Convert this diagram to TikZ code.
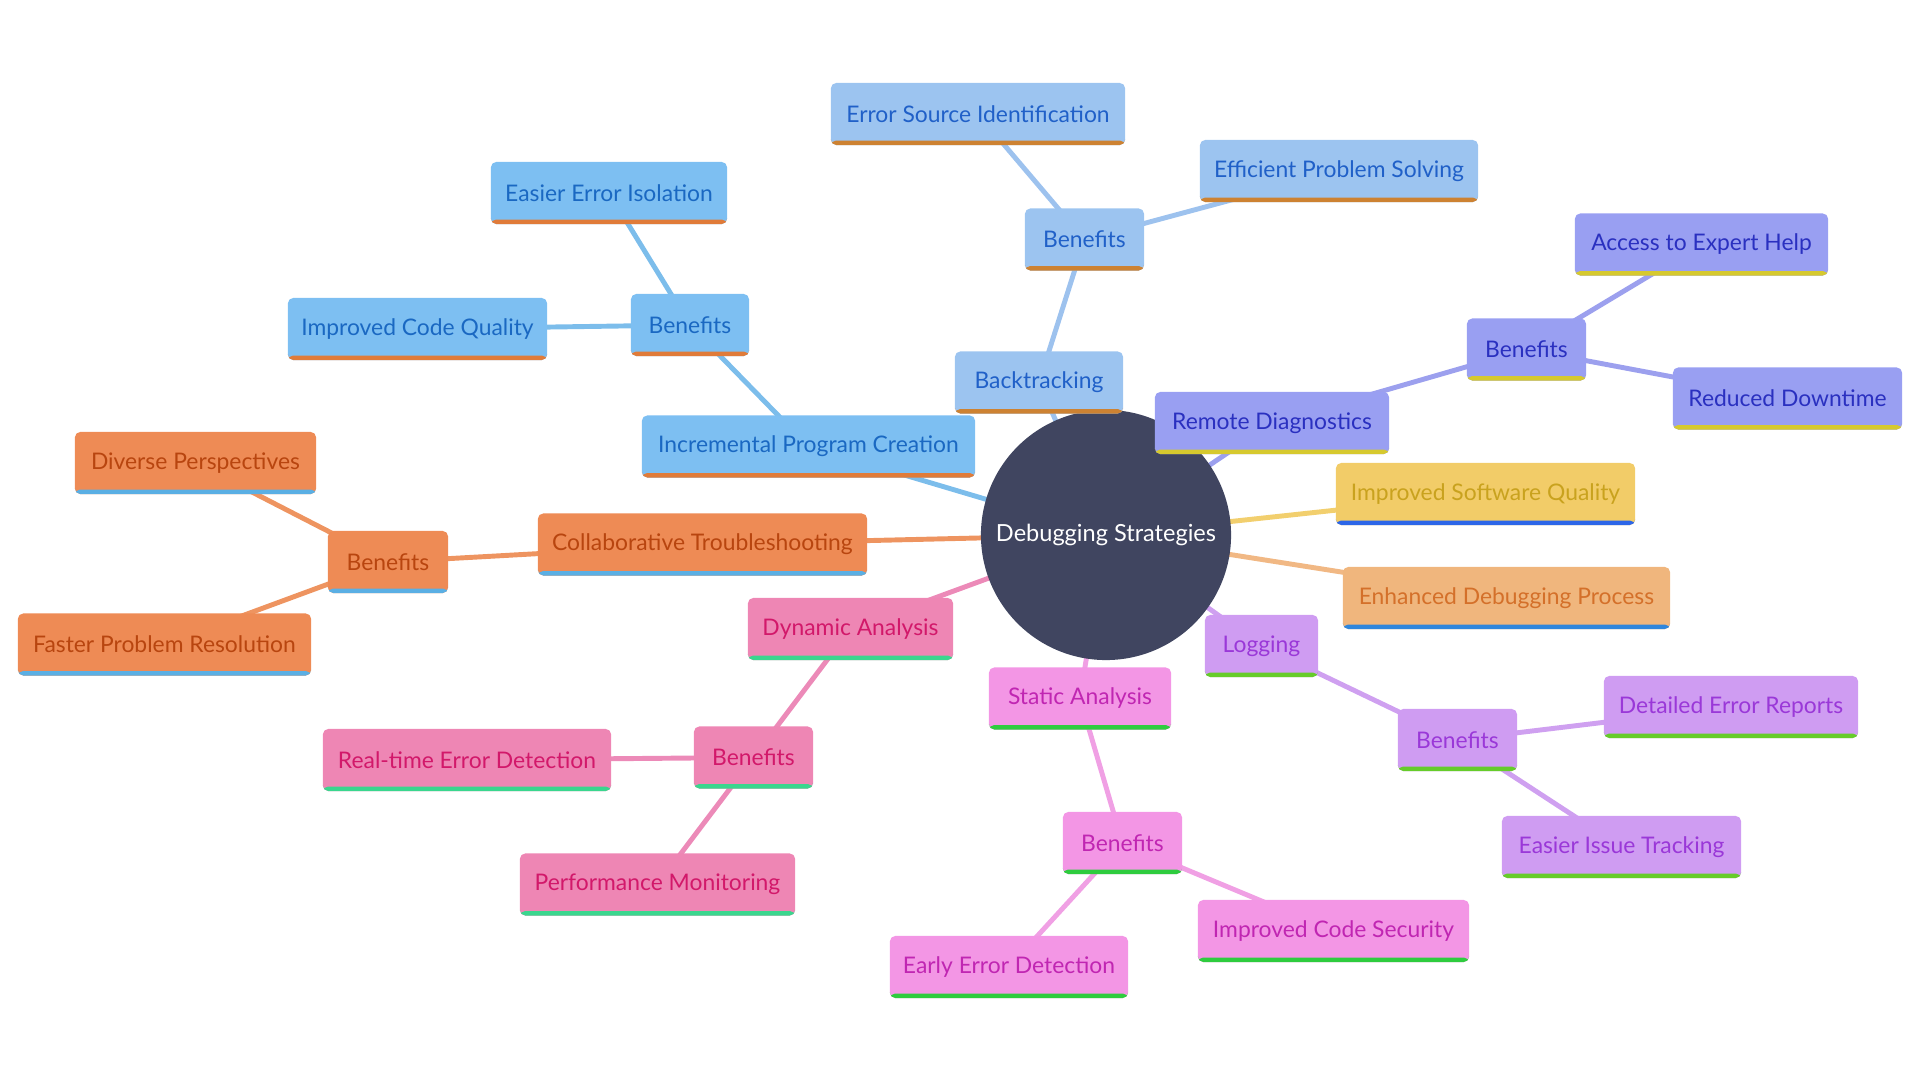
\documentclass[tikz,border=0pt]{standalone}
\usepackage{fontspec}
\setmainfont{Lato}
\usetikzlibrary{backgrounds}
\definecolor{ipcF}{HTML}{7DBFF2}\definecolor{ipcT}{HTML}{1A68C2}\definecolor{ipcU}{HTML}{E07B39}\definecolor{ipcL}{HTML}{7CBDEB}
\definecolor{btF}{HTML}{9CC4F0}\definecolor{btT}{HTML}{2060C8}\definecolor{btU}{HTML}{CD8232}\definecolor{btL}{HTML}{9DC2EE}
\definecolor{rdF}{HTML}{999FF2}\definecolor{rdT}{HTML}{2A30C0}\definecolor{rdU}{HTML}{D6C92E}\definecolor{rdL}{HTML}{9CA0EE}
\definecolor{isqF}{HTML}{F2CC68}\definecolor{isqT}{HTML}{C9A21E}\definecolor{isqU}{HTML}{2C66E8}\definecolor{isqL}{HTML}{F2CF6E}
\definecolor{edpF}{HTML}{F0B67D}\definecolor{edpT}{HTML}{D4702A}\definecolor{edpU}{HTML}{2F86DC}\definecolor{edpL}{HTML}{F1B884}
\definecolor{logF}{HTML}{CF9CF2}\definecolor{logT}{HTML}{9A38D8}\definecolor{logU}{HTML}{66CC2A}\definecolor{logL}{HTML}{CFA0F0}
\definecolor{saF}{HTML}{F396E5}\definecolor{saT}{HTML}{C026B2}\definecolor{saU}{HTML}{2ECC3E}\definecolor{saL}{HTML}{F0A0E4}
\definecolor{daF}{HTML}{EE86B4}\definecolor{daT}{HTML}{D2186A}\definecolor{daU}{HTML}{3AD68E}\definecolor{daL}{HTML}{EC8AB8}
\definecolor{ctF}{HTML}{EE8B55}\definecolor{ctT}{HTML}{B8450F}\definecolor{ctU}{HTML}{5AAFE4}\definecolor{ctL}{HTML}{EE9460}
\definecolor{hubF}{HTML}{404560}
\tikzset{
  box/.style n args={3}{fill=#1, text=#2, rounded corners=1.5pt, minimum height=0.62cm, inner sep=0pt,
    font=\fontsize{6.5}{7.8}\selectfont,
    path picture={\fill[#3] ([yshift=0.045cm]path picture bounding box.south west) rectangle (path picture bounding box.south east);}},
  ipc/.style={box={ipcF}{ipcT}{ipcU}}, bt/.style={box={btF}{btT}{btU}},
  rd/.style={box={rdF}{rdT}{rdU}}, isq/.style={box={isqF}{isqT}{isqU}},
  edp/.style={box={edpF}{edpT}{edpU}}, lg/.style={box={logF}{logT}{logU}},
  sa/.style={box={saF}{saT}{saU}}, da/.style={box={daF}{daT}{daU}},
  ct/.style={box={ctF}{ctT}{ctU}},
  hub/.style={circle, fill=hubF, text=white, minimum size=2.5cm, inner sep=0pt, font=\fontsize{6.7}{8}\selectfont},
  link/.style={line width=1.4pt, draw=#1},
}
\begin{document}
\begin{tikzpicture}[x=0.01cm, y=-0.01cm]
\useasboundingbox (0,0) rectangle (1920,1080);
\node[hub] (hub) at (1106,535) {Debugging Strategies};
% Backtracking
\node[bt, minimum width=1.68cm] (bt) at (1039,382.5) {Backtracking};
\node[bt, minimum width=1.19cm] (btb) at (1084.5,239.5) {Benefits};
\node[bt, minimum width=2.94cm] (esi) at (978,114) {Error Source Identification};
\node[bt, minimum width=2.78cm] (eps) at (1339,171) {Efficient Problem Solving};
% Incremental
\node[ipc, minimum width=3.33cm] (ipc) at (808.5,446.5) {Incremental Program Creation};
\node[ipc, minimum width=1.18cm] (ipcb) at (690,325) {Benefits};
\node[ipc, minimum width=2.36cm] (eei) at (609,193) {Easier Error Isolation};
\node[ipc, minimum width=2.59cm] (icq) at (417.5,329) {Improved Code Quality};
% Remote
\node[rd, minimum width=2.34cm] (rd) at (1272,423) {Remote Diagnostics};
\node[rd, minimum width=1.19cm] (rdb) at (1526.5,349.5) {Benefits};
\node[rd, minimum width=2.53cm] (aeh) at (1701.5,244.5) {Access to Expert Help};
\node[rd, minimum width=2.29cm] (rdt) at (1787.5,398.5) {Reduced Downtime};
% Leaves of hub
\node[isq, minimum width=2.99cm] (isq) at (1485.5,494) {Improved Software Quality};
\node[edp, minimum width=3.27cm] (edp) at (1506.5,598) {Enhanced Debugging Process};
% Logging
\node[lg, minimum width=1.13cm] (log) at (1261.5,646) {Logging};
\node[lg, minimum width=1.19cm] (logb) at (1457.5,740) {Benefits};
\node[lg, minimum width=2.54cm] (der) at (1731,707) {Detailed Error Reports};
\node[lg, minimum width=2.39cm] (eit) at (1621.5,847) {Easier Issue Tracking};
% Static
\node[sa, minimum width=1.82cm] (sa) at (1080,698.5) {Static Analysis};
\node[sa, minimum width=1.19cm] (sab) at (1122.5,843) {Benefits};
\node[sa, minimum width=2.71cm] (ics) at (1333.5,931) {Improved Code Security};
\node[sa, minimum width=2.38cm] (eed) at (1009,967) {Early Error Detection};
% Dynamic
\node[da, minimum width=2.05cm] (da) at (850.5,629) {Dynamic Analysis};
\node[da, minimum width=1.19cm] (dab) at (753.5,757.5) {Benefits};
\node[da, minimum width=2.88cm] (rted) at (467,760) {Real-time Error Detection};
\node[da, minimum width=2.75cm] (pm) at (657.5,884.5) {Performance Monitoring};
% Collaborative
\node[ct, minimum width=3.29cm] (ct) at (702.5,544.5) {Collaborative Troubleshooting};
\node[ct, minimum width=1.20cm] (ctb) at (388,562) {Benefits};
\node[ct, minimum width=2.41cm] (dp) at (195.5,463) {Diverse Perspectives};
\node[ct, minimum width=2.93cm] (fpr) at (164.5,644.5) {Faster Problem Resolution};
\begin{scope}[on background layer]
\draw[link=btL] (hub.center) -- (bt.center) (bt.center) -- (btb.center) (btb.center) -- (esi.center) (btb.center) -- (eps.center);
\draw[link=ipcL] (hub.center) -- (ipc.center) (ipc.center) -- (ipcb.center) (ipcb.center) -- (eei.center) (ipcb.center) -- (icq.center);
\draw[link=rdL] (hub.center) -- (rd.center) (rd.center) -- (rdb.center) (rdb.center) -- (aeh.center) (rdb.center) -- (rdt.center);
\draw[link=isqL] (hub.center) -- (isq.center);
\draw[link=edpL] (hub.center) -- (edp.center);
\draw[link=logL] (hub.center) -- (log.center) (log.center) -- (logb.center) (logb.center) -- (der.center) (logb.center) -- (eit.center);
\draw[link=saL] (hub.center) -- (sa.center) (sa.center) -- (sab.center) (sab.center) -- (ics.center) (sab.center) -- (eed.center);
\draw[link=daL] (hub.center) -- (da.center) (da.center) -- (dab.center) (dab.center) -- (rted.center) (dab.center) -- (pm.center);
\draw[link=ctL] (hub.center) -- (ct.center) (ct.center) -- (ctb.center) (ctb.center) -- (dp.center) (ctb.center) -- (fpr.center);
\end{scope}
\end{tikzpicture}
\end{document}
